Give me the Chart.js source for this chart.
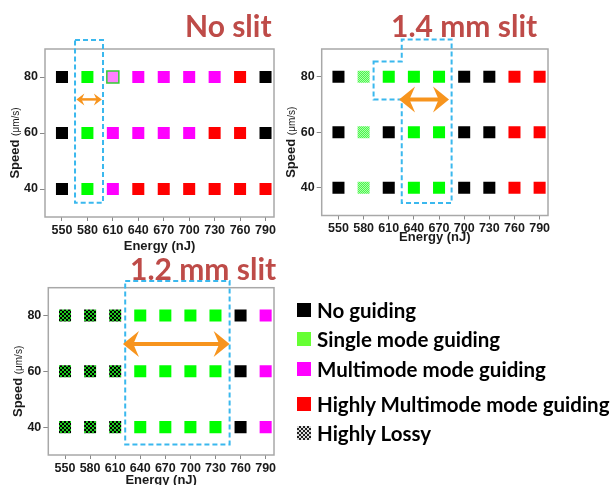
<!DOCTYPE html>
<html>
<head>
<meta charset="utf-8">
<script src="https://cdn.jsdelivr.net/npm/chart.js@4.4.1/dist/chart.umd.min.js"></script>
<style>
    body { margin: 0; width: 614px; height: 485px; overflow: hidden; background: #fff; position: relative; }
    canvas { position: absolute; }
    .ptitle { position: absolute; font: bold 30px Lato, sans-serif; color: #be4b48; white-space: nowrap; line-height: 1; }
    .lrow { position: absolute; left: 297px; height: 24px; display: flex; align-items: center; font: bold 20.5px Lato, sans-serif; color: #000; white-space: nowrap; }
    .lbox { width: 14px; height: 14px; margin-right: 6px; flex: none; }
</style>
</head>
<body>
<canvas id="chart_no_slit" style="left:0;top:0"></canvas>
<canvas id="chart_slit_14" style="left:285px;top:0"></canvas>
<canvas id="chart_slit_12" style="left:0;top:245px"></canvas>
<div class="ptitle" style="left:185px;top:10px">No slit</div>
<div class="ptitle" style="left:391px;top:10px">1.4 mm slit</div>
<div class="ptitle" style="left:130px;top:253px">1.2 mm slit</div>
<div id="legend"></div>
<script>
const energies = [550, 580, 610, 640, 670, 700, 730, 760, 790];
const speeds = [80, 60, 40];

// N = no guiding, S = single mode, M = multimode, H = highly multimode, L = highly lossy
// W = weak single mode (pale green), X = multimode with single-mode rim
const noSlit80 = ["N", "S", "X", "M", "M", "M", "M", "H", "N"];
const noSlit60 = ["N", "S", "M", "M", "M", "M", "H", "H", "N"];
const noSlit40 = ["N", "S", "M", "H", "H", "H", "H", "H", "H"];

const slit14_80 = ["N", "W", "S", "S", "S", "N", "N", "H", "H"];
const slit14_60 = ["N", "W", "N", "S", "S", "N", "N", "H", "H"];
const slit14_40 = ["N", "W", "N", "S", "S", "N", "N", "H", "H"];

const slit12_80 = ["L", "L", "L", "S", "S", "S", "S", "N", "M"];
const slit12_60 = ["L", "L", "L", "S", "S", "S", "S", "N", "M"];
const slit12_40 = ["L", "L", "L", "S", "S", "S", "S", "N", "M"];

const legendCodes = ["N", "S", "M", "H", "L"];
const legendLabels = ["No guiding", "Single mode guiding", "Multimode mode guiding", "Highly Multimode mode guiding", "Highly Lossy"];
const legendRowY = [310, 339, 369, 404, 433];

const makePattern = (size, cells) => {
    const c = document.createElement("canvas");
    c.width = size;
    c.height = size;
    const g = c.getContext("2d");
    cells.forEach(([x, y, w, col]) => {
        g.fillStyle = col;
        g.fillRect(x, y, w, w);
    });
    return g.createPattern(c, "repeat");
};

const lossyPattern = makePattern(4, [[0, 0, 2, "#000"], [2, 0, 2, "#1ec81e"], [0, 2, 2, "#1ec81e"], [2, 2, 2, "#000"]]);
const palePattern = makePattern(2, [[0, 0, 1, "#4cf54c"], [1, 0, 1, "#a8ffa8"], [0, 1, 1, "#a8ffa8"], [1, 1, 1, "#4cf54c"]]);

const markStyle = {
    N: { fill: "#000000", border: "#000000", width: 0 },
    S: { fill: "#00ff00", border: "#00ff00", width: 0 },
    M: { fill: "#ff00ff", border: "#ff00ff", width: 0 },
    H: { fill: "#ff0000", border: "#ff0000", width: 0 },
    L: { fill: lossyPattern, border: "#22aa22", width: 0 },
    W: { fill: palePattern, border: "#7cf07c", width: 0 },
    X: { fill: "#ff80ff", border: "#33cc33", width: 1.5 },
};

const buildDatasets = (rows) =>
    Object.keys(markStyle).map((code) => ({
        label: code,
        data: rows.flatMap((row, i) =>
            row.map((c, j) => (c === code ? { x: energies[j], y: speeds[i] } : null)).filter(Boolean)
        ),
        backgroundColor: markStyle[code].fill,
        borderColor: markStyle[code].border,
        borderWidth: markStyle[code].width,
        pointStyle: "rect",
        pointRadius: 8.5,
    }));

const frame = {
    id: "frame",
    afterDraw(chart) {
        const { ctx, chartArea: a } = chart;
        ctx.save();
        ctx.strokeStyle = "#a8a8a8";
        ctx.lineWidth = 1.5;
        ctx.strokeRect(a.left, a.top, a.right - a.left, a.bottom - a.top);
        ctx.restore();
    },
};

const speedTitle = {
    id: "speedTitle",
    afterDraw(chart) {
        const { ctx, chartArea: a } = chart;
        ctx.save();
        ctx.translate(a.left - 30, (a.top + a.bottom) / 2 + 10);
        ctx.rotate(-Math.PI / 2);
        ctx.fillStyle = "#1a1a1a";
        ctx.textBaseline = "middle";
        ctx.font = 'bold 13px "Liberation Sans"';
        const w1 = ctx.measureText("Speed ").width;
        ctx.font = '10px "Liberation Sans"';
        const w2 = ctx.measureText("(μm/s)").width;
        const x0 = -(w1 + w2) / 2;
        ctx.font = 'bold 13px "Liberation Sans"';
        ctx.fillText("Speed ", x0, 0);
        ctx.font = '10px "Liberation Sans"';
        ctx.fillText("(μm/s)", x0 + w1, 1);
        ctx.restore();
    },
};

// dashed region and double arrow, given in data units
const guide = {
    id: "guide",
    afterDraw(chart, args, opts) {
        const { ctx, scales } = chart;
        const px = (v) => scales.x.getPixelForValue(v);
        const py = (v) => scales.y.getPixelForValue(v);
        ctx.save();
        ctx.strokeStyle = "#3ab8ee";
        ctx.lineWidth = 2;
        ctx.setLineDash([5, 3]);
        ctx.beginPath();
        opts.box.forEach(([x, y], i) => (i ? ctx.lineTo(px(x), py(y)) : ctx.moveTo(px(x), py(y))));
        ctx.closePath();
        ctx.stroke();
        ctx.setLineDash([]);

        const { from, to, at, head, half, width } = opts.arrow;
        const x1 = px(from), x2 = px(to), y = py(at);
        ctx.strokeStyle = "#f7941d";
        ctx.fillStyle = "#f7941d";
        ctx.lineWidth = width;
        ctx.beginPath();
        ctx.moveTo(x1 + head * 0.6, y);
        ctx.lineTo(x2 - head * 0.6, y);
        ctx.stroke();
        [[x1, 1], [x2, -1]].forEach(([tx, d]) => {
            ctx.beginPath();
            ctx.moveTo(tx, y);
            ctx.lineTo(tx + d * head, y - half);
            ctx.lineTo(tx + d * head * 0.65, y);
            ctx.lineTo(tx + d * head, y + half);
            ctx.closePath();
            ctx.fill();
        });
        ctx.restore();
    },
};

const tickFont = { family: "Liberation Sans", weight: "bold", size: 12.5 };
const titleFont = { family: "Liberation Sans", weight: "bold", size: 13 };

const makeChart = (id, size, area, rows, annot) => {
    const canvas = document.getElementById(id);
    canvas.width = size.w;
    canvas.height = size.h;
    canvas.style.width = size.w + "px";
    canvas.style.height = size.h + "px";
    return new Chart(canvas, {
        type: "scatter",
        data: { datasets: buildDatasets(rows) },
        options: {
            responsive: false,
            animation: false,
            events: [],
            layout: { padding: { top: area.top, right: size.w - area.right, left: 0, bottom: 0 } },
            plugins: { legend: { display: false }, tooltip: { enabled: false }, guide: annot },
            scales: {
                x: {
                    type: "linear",
                    min: 530,
                    max: 800,
                    afterBuildTicks: (s) => { s.ticks = energies.map((v) => ({ value: v })); },
                    afterFit: (s) => { s.height = size.h - area.bottom; },
                    ticks: { autoSkip: false, maxRotation: 0, font: tickFont, color: "#1a1a1a", padding: 2 },
                    grid: { drawOnChartArea: false, tickLength: 4, color: "#888" },
                    border: { display: false },
                    title: {
                        display: true,
                        text: "Energy (nJ)",
                        font: titleFont,
                        color: "#1a1a1a",
                        padding: { top: 0, bottom: area.titlePad },
                    },
                },
                y: {
                    type: "linear",
                    min: 30,
                    max: 90,
                    afterBuildTicks: (s) => { s.ticks = speeds.map((v) => ({ value: v })); },
                    afterFit: (s) => { s.width = area.left; },
                    ticks: { font: tickFont, color: "#1a1a1a", padding: 2 },
                    grid: { drawOnChartArea: false, tickLength: 5, color: "#888" },
                    border: { display: false },
                },
            },
        },
        plugins: [frame, speedTitle, guide],
    });
};

makeChart("chart_no_slit", { w: 300, h: 260 }, { left: 45, top: 49, right: 274, bottom: 217, titlePad: 6 },
    [noSlit80, noSlit60, noSlit40], {
        box: [[565.4, 93.2], [598.4, 93.2], [598.4, 35.1], [565.4, 35.1]],
        arrow: { from: 567, to: 597, at: 72, head: 8, half: 6, width: 2.5 },
    });

makeChart("chart_slit_14", { w: 329, h: 250 }, { left: 36.7, top: 49, right: 263, bottom: 215.5, titlePad: 5 },
    [slit14_80, slit14_60, slit14_40], {
        box: [[591.9, 85.5], [625.5, 85.5], [625.5, 93.4], [685, 93.4], [685, 34.5], [625.5, 34.5], [625.5, 71.8], [591.9, 71.8]],
        arrow: { from: 622.3, to: 681.9, at: 71.8, head: 16, half: 13, width: 4 },
    });

makeChart("chart_slit_12", { w: 300, h: 250 }, { left: 48.3, top: 42.7, right: 274, bottom: 210, titlePad: 7 },
    [slit12_80, slit12_60, slit12_40], {
        box: [[622, 92.4], [746.9, 92.4], [746.9, 33.8], [622, 33.8]],
        arrow: { from: 619.3, to: 746.9, at: 69.8, head: 16, half: 13, width: 4 },
    });

const legendSwatch = {
    N: "#000000",
    S: "#66ff33",
    M: "#ff00ff",
    H: "#ff0000",
    L: "repeating-conic-gradient(#222 0 25%, #ddd 0 50%) 0 0 / 4px 4px",
};

const legend = document.getElementById("legend");
legendCodes.forEach((code, i) => {
    const row = document.createElement("div");
    row.className = "lrow";
    row.style.top = legendRowY[i] - 12 + "px";
    const box = document.createElement("span");
    box.className = "lbox";
    box.style.background = legendSwatch[code];
    row.appendChild(box);
    row.appendChild(document.createTextNode(legendLabels[i]));
    legend.appendChild(row);
});
</script>
</body>
</html>
